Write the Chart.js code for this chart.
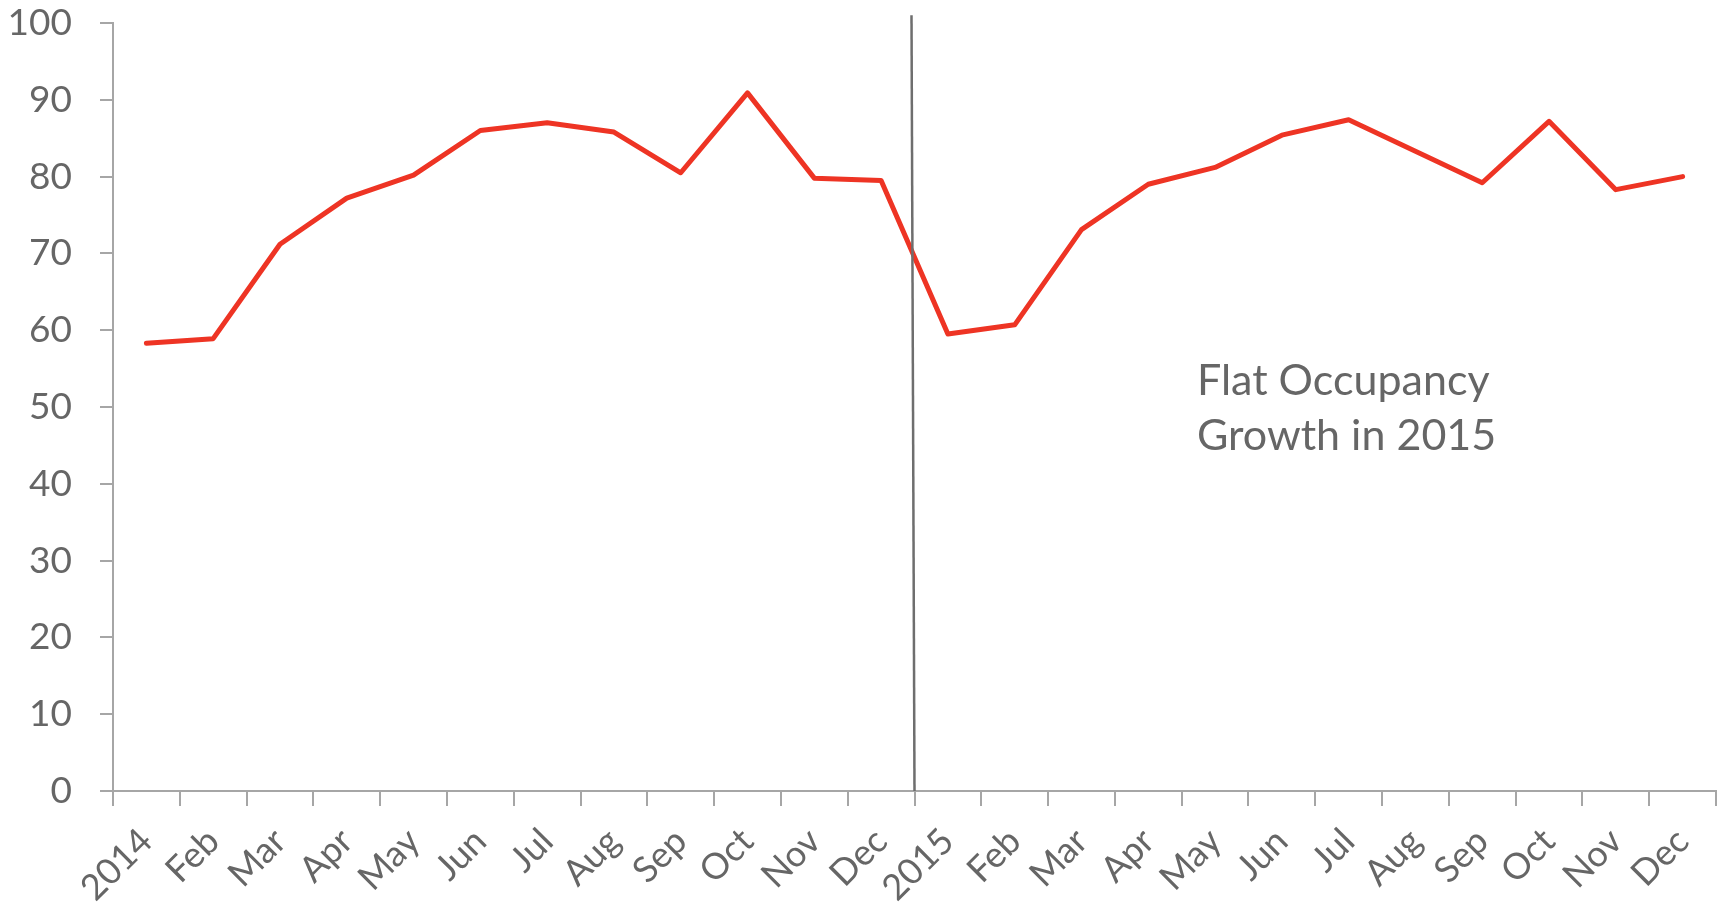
<!DOCTYPE html>
<html>
<head>
<meta charset="utf-8">
<script src="https://cdn.jsdelivr.net/npm/chart.js@4/dist/chart.umd.min.js"></script>
<style>
  html, body { margin: 0; padding: 0; background: #ffffff; }
  #wrap { width: 1728px; height: 909px; position: relative; }
</style>
</head>
<body>
<div id="wrap"><canvas id="occupancy"></canvas></div>
<script>
// monthly occupancy, two years side by side
var months = ["2014", "Feb", "Mar", "Apr", "May", "Jun", "Jul", "Aug", "Sep", "Oct", "Nov", "Dec",
              "2015", "Feb", "Mar", "Apr", "May", "Jun", "Jul", "Aug", "Sep", "Oct", "Nov", "Dec"];
var occupancy2014 = [58.3, 58.9, 71.2, 77.2, 80.2, 86.0, 87.0, 85.8, 80.5, 90.9, 79.8, 79.5];
var occupancy2015 = [59.5, 60.7, 73.1, 79.0, 81.2, 85.4, 87.4, 83.3, 79.2, 87.2, 78.3, 80.0];
var yTicks = [0, 10, 20, 30, 40, 50, 60, 70, 80, 90, 100];
var noteLines = ["Flat Occupancy", "Growth in 2015"];

var grey = "#666666";
var axisGrey = "#a6a6a6";

// divider between the two years plus the text note
var yearDivider = {
  id: 'yearDivider',
  afterDatasetsDraw: function (chart) {
    var ctx = chart.ctx;
    var x = chart.scales.x;
    var y = chart.scales.y;
    var px = x.getPixelForValue(11.5);
    ctx.save();
    ctx.strokeStyle = "#6e6e6e";
    ctx.lineWidth = 2.5;
    ctx.beginPath();
    ctx.moveTo(px - 3, y.getPixelForValue(101));
    ctx.lineTo(px, y.getPixelForValue(0));
    ctx.stroke();

    ctx.fillStyle = grey;
    ctx.font = "43px Lato";
    ctx.textAlign = "left";
    ctx.textBaseline = "alphabetic";
    var nx = x.getPixelForValue(15.73);
    ctx.fillText(noteLines[0], nx, y.getPixelForValue(51.6));
    ctx.fillText(noteLines[1], nx, y.getPixelForValue(44.4));
    ctx.restore();
  }
};

new Chart(
    document.getElementById("occupancy"),
    {
        type : 'line',
        data : {
            labels : months,
            datasets : [
                    {
                        data : occupancy2014.concat(occupancy2015),
                        label : "Occupancy",
                        borderColor : "#ee3424",
                        borderWidth : 5,
                        borderCapStyle : 'round',
                        borderJoinStyle : 'round',
                        pointRadius : 0,
                        tension : 0,
                        fill : false
                    } ]
        },
        plugins : [ yearDivider ],
        options : {
            responsive : true,
            maintainAspectRatio : false,
            animation : false,
            layout : {
                padding : { top: 0, right: 12, left: 0, bottom: 0 }
            },
            plugins : {
                legend : { display : false },
                tooltip : { enabled : false }
            },
            scales : {
                x : {
                    offset : true,
                    grid : {
                        offset : true,
                        drawOnChartArea : false,
                        drawTicks : true,
                        tickLength : 15,
                        color : axisGrey,
                        lineWidth : 2
                    },
                    border : { color : axisGrey, width : 2 },
                    ticks : {
                        autoSkip : false,
                        maxRotation : 45,
                        minRotation : 45,
                        padding : 14,
                        color : grey,
                        font : { family : "Lato", size : 36 }
                    },
                    afterFit : function (scale) { scale.height = 118; }
                },
                y : {
                    min : 0,
                    max : 100,
                    afterBuildTicks : function (scale) {
                        scale.ticks = yTicks.map(function (v) { return { value : v }; });
                    },
                    grid : {
                        drawOnChartArea : false,
                        drawTicks : true,
                        tickLength : 13,
                        color : axisGrey,
                        lineWidth : 2
                    },
                    border : { color : axisGrey, width : 2 },
                    ticks : {
                        padding : 28,
                        color : grey,
                        font : { family : "Lato", size : 37 }
                    },
                    afterFit : function (scale) {
                        scale.width = 113;
                        // label padding shouldn't push the plot down
                        scale.paddingTop = 23;
                        scale.paddingBottom = 0;
                    }
                }
            }
        }
});
</script>
</body>
</html>
